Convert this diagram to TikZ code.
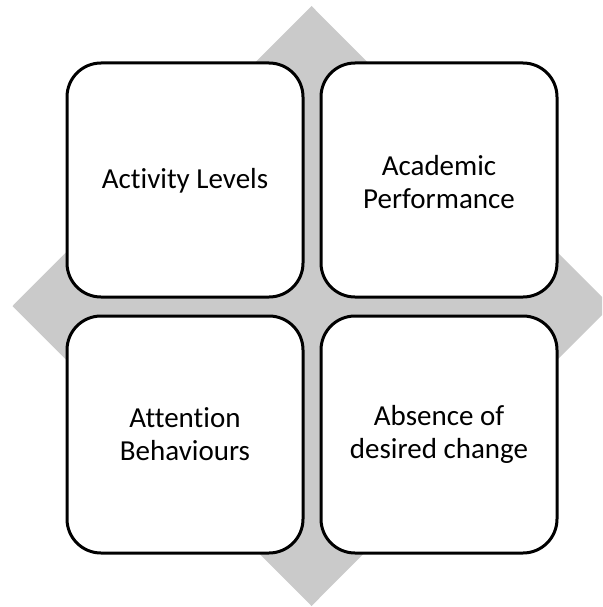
\documentclass[tikz,border=0pt]{standalone}
\usepackage{fontspec}
\setmainfont[Ligatures=NoCommon]{Carlito}
\definecolor{diamondgray}{RGB}{202,202,202}
\begin{document}
\begin{tikzpicture}[x=1pt,y=-1pt,
  quad/.style={draw=black, line width=3pt, fill=white, rounded corners=34pt},
  label/.style={align=center, font=\fontsize{29}{33}\selectfont, inner sep=0pt}]
\useasboundingbox (0,0) rectangle (602,607);
\begin{scope}
  \clip (0,0) rectangle (602,607);
  % background diamond
  \fill[diamondgray] (311.5,6) -- (611,306) -- (311.5,606) -- (12.5,306) -- cycle;
\end{scope}
% four rounded squares
\draw[quad] (67,63) rectangle (303,297);
\draw[quad] (321,63) rectangle (557,297);
\draw[quad] (67,316) rectangle (303,553);
\draw[quad] (321,316) rectangle (557,553);
\node[label] (tl) at (185,181) {Activity Levels};
\node[label] (tr) at (439,182) {Academic\\Performance};
\node[label] (bl) at (185,434) {Attention\\Behaviours};
\node[label] (br) at (439,434) {Absence of\\desired change};
\end{tikzpicture}
\end{document}
